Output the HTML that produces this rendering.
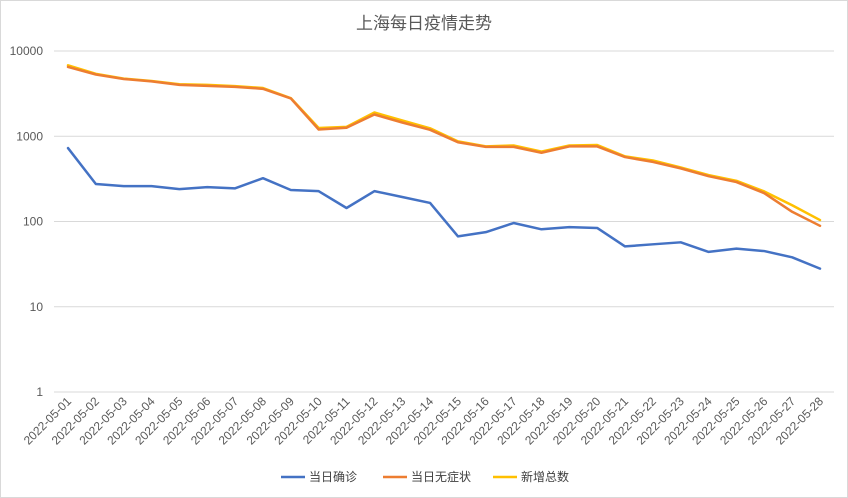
<!DOCTYPE html>
<html><head><meta charset="utf-8"><style>
body{margin:0;background:#fff;}
svg{display:block;font-family:"Liberation Sans","Noto Sans CJK SC",sans-serif;}
</style></head><body>
<svg id="c" width="848" height="498" xmlns="http://www.w3.org/2000/svg">
<rect x="0.5" y="0.5" width="847" height="497" fill="#fff" stroke="#d9d9d9"/>
<text x="424" y="29" text-anchor="middle" font-size="17" fill="#595959">上海每日疫情走势</text>
<g id="grid"></g><g id="series"></g><g id="xl"></g>
<g font-size="12" fill="#404040">
<line x1="281" y1="477" x2="305" y2="477" stroke="#4472c4" stroke-width="2.5"/>
<text x="309" y="481">当日确诊</text>
<line x1="383" y1="477" x2="407" y2="477" stroke="#ed7d31" stroke-width="2.5"/>
<text x="411" y="481">当日无症状</text>
<line x1="493" y1="477" x2="517" y2="477" stroke="#ffc000" stroke-width="2.5"/>
<text x="521" y="481">新增总数</text>
</g>
</svg>
<script>
const dates=[];for(let i=1;i<=28;i++)dates.push('2022-05-'+String(i).padStart(2,'0'));
const confirmed=[727,275,260,260,240,253,245,322,234,227,144,227,194,165,67,75,96,81,86,84,51,54,57,44,48,45,38,28];
const asymptomatic=[6500,5300,4700,4400,4000,3900,3800,3600,2780,1200,1260,1800,1450,1190,850,750,750,640,760,760,570,500,420,340,290,215,130,89];
const total=[6800,5400,4750,4450,4080,4000,3870,3680,2800,1250,1290,1900,1530,1240,870,760,780,660,780,790,580,520,430,350,300,225,155,104];
const tickVals=[1,10,100,1000,10000];
const NS='http://www.w3.org/2000/svg';
const x0=68,x1=820,yTop=51,yBot=392;
const xs=i=>x0+i*(x1-x0)/(dates.length-1);
const ys=v=>yBot-(Math.log10(v)-0)/4*(yBot-yTop);
const g=document.getElementById('grid'),s=document.getElementById('series'),xl=document.getElementById('xl');
function mk(t,a,p){const e=document.createElementNS(NS,t);for(const k in a)e.setAttribute(k,a[k]);p.appendChild(e);return e;}
tickVals.forEach(v=>{
 const l=mk('line',{x1:54,x2:834,y1:ys(v),y2:ys(v),stroke:'#d9d9d9','stroke-width':1},g);
 
 
 const t=mk('text',{x:43,y:ys(v)+4,'text-anchor':'end','font-size':12,fill:'#595959'},g);
 t.textContent=String(v);
 
 
});
dates.forEach((d,i)=>{
 const t=mk('text',{x:0,y:0,'text-anchor':'end','font-size':12,fill:'#595959',transform:`translate(${xs(i)+4},${402}) rotate(-45)`},xl);
 t.textContent=d;
 
 
});
[[total,'#ffc000','line-total'],[asymptomatic,'#ed7d31','line-asymptomatic'],[confirmed,'#4472c4','line-confirmed']].forEach(([arr,c,n])=>{
 const p=mk('polyline',{points:arr.map((v,i)=>xs(i)+','+ys(v)).join(' '),fill:'none',stroke:c,'stroke-width':2.5,'stroke-linejoin':'round','stroke-linecap':'round'},s);
 
 
});
</script>
</body></html>
